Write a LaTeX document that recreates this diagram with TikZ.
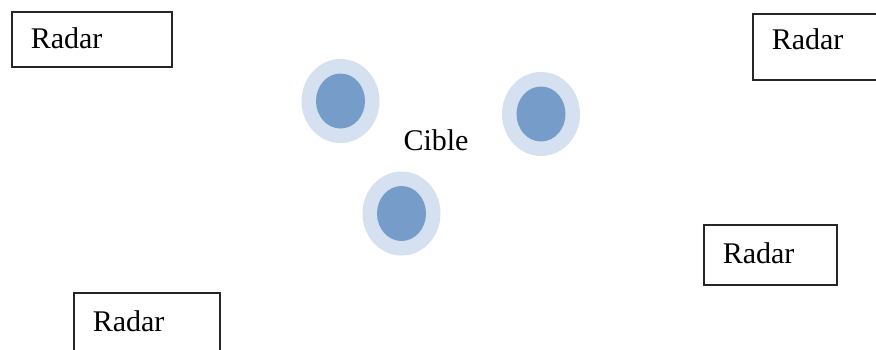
\documentclass[tikz,border=0pt]{standalone}
\usepackage{fontspec}
\setmainfont{Liberation Serif}
\usepackage{xcolor}
\usepackage{tikz}
\usetikzlibrary{shapes.geometric}

\definecolor{halo}{RGB}{213,225,240}
\definecolor{core}{RGB}{118,156,202}

\begin{document}
\begin{tikzpicture}[x=1pt, y=-1pt,
    radar/.style={draw=black!85, line width=1.5pt, rectangle, anchor=north west,
      inner xsep=19pt, inner ysep=0pt, align=left, font=\fontsize{30}{36}\selectfont},
    outer/.style={ellipse, fill=halo, minimum width=78pt, minimum height=84pt, inner sep=0pt},
    inner/.style={ellipse, fill=core, minimum width=49pt, minimum height=55pt, inner sep=0pt}
  ]
    \useasboundingbox (0,0) rectangle (876,349);
    \clip (0,0) rectangle (876,349);
    % radars
    \node[radar, text width=122pt, text height=37pt, text depth=18pt] (r1) at (11,11) {Radar};
    \node[radar, text width=110pt, text height=36pt, text depth=30pt] (r2) at (752,13) {Radar};
    \node[radar, text width=95pt, text height=39pt, text depth=21pt] (r3) at (703,224) {Radar};
    \node[radar, text width=108pt, text height=39pt, text depth=30pt] (r4) at (73,292) {Radar};
    % targets
    \node[outer] (t1) at (340.5,101) {};
    \node[inner] (c1) at (t1.center) {};
    \node[outer] (t2) at (541,114) {};
    \node[inner] (c2) at (t2.center) {};
    \node[outer] (t3) at (401.5,213.5) {};
    \node[inner] (c3) at (t3.center) {};
    \node[anchor=base, inner sep=0pt, font=\fontsize{30}{36}\selectfont] (cible) at (436,150) {Cible};
\end{tikzpicture}
\end{document}
